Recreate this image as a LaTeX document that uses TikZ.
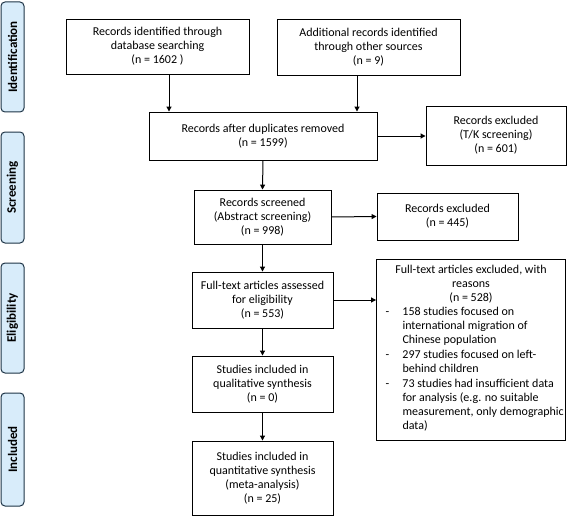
\documentclass[tikz,border=0pt]{standalone}
\usepackage{fontspec}
\setmainfont{Carlito}
\usetikzlibrary{arrows.meta, calc}
\definecolor{stageblue}{HTML}{D8ECFA}
\definecolor{stageedge}{HTML}{1E3446}
% one excluded reason: dash, then its lines
\newcommand{\reason}[1]{\makebox[21pt][l]{\hspace*{4pt}-}\begin{tabular}[t]{@{}l@{}}#1\end{tabular}\par}

\begin{document}
\begin{tikzpicture}[x=1pt, y=-1pt,
  box/.style={draw, line width=0.9pt, align=center, inner sep=0pt,
    font=\fontsize{12}{14}\selectfont},
  stage/.style={draw=stageedge, fill=stageblue, rounded corners=4pt, line width=1pt,
    rotate=90, minimum height=23pt, inner sep=0pt, font=\fontsize{13}{14}\selectfont\bfseries},
  arr/.style={-{Triangle[length=5pt,width=5pt]}, line width=1pt}]
\useasboundingbox (0,0) rectangle (567,516);
% Stages down the left side
\node[stage, minimum width=110pt] (ident) at (12.5,57) {Identification};
\node[stage, minimum width=111pt] (screen) at (12.5,187.5) {Screening};
\node[stage, minimum width=110pt] (elig) at (12.5,318) {Eligibility};
\node[stage, minimum width=113pt] (incl) at (12.5,449.5) {Included};
% Identification
\node[box, minimum width=183pt, minimum height=55pt] (db) at (157.5,46.5)
  {Records identified through\\database searching\\(n = 1602 )};
\node[box, minimum width=183pt, minimum height=56pt] (other) at (368.5,47)
  {Additional records identified\\through other sources\\(n = 9)};
% Screening
\node[box, minimum width=228pt, minimum height=48pt] (dup) at (263,136)
  {Records after duplicates removed\\(n = 1599)};
\node[box, minimum width=140pt, minimum height=59pt] (tk) at (496,135.5)
  {Records excluded\\(T/K screening)\\(n = 601)};
\node[box, minimum width=137pt, minimum height=54pt] (abs) at (262.5,217)
  {Records screened\\(Abstract screening)\\(n = 998)};
\node[box, minimum width=141pt, minimum height=47pt] (absex) at (447.5,216.5)
  {Records excluded\\(n = 445)};
% Eligibility
\node[box, minimum width=141pt, minimum height=56pt] (full) at (262.5,300)
  {Full-text articles assessed\\for eligibility\\(n = 553)};
\node[box, minimum width=189pt, minimum height=181pt, text width=179pt, align=none] (fullex) at (471,349.5)
  {\centering Full-text articles excluded, with\\reasons\\(n = 528)\par
   \raggedright
   \reason{158 studies focused on\\international migration of\\Chinese population}
   \reason{297 studies focused on left-\\behind children}
   \reason{73 studies had insufficient data\\for analysis (e.g. no suitable\\measurement, only demographic\\data)}};
% Included
\node[box, minimum width=141pt, minimum height=56pt] (qual) at (262.5,384)
  {Studies included in\\qualitative synthesis\\(n = 0)};
\node[box, minimum width=141pt, minimum height=74pt] (quant) at (262.5,478)
  {Studies included in\\quantitative synthesis\\(meta-analysis)\\(n = 25)};
% Arrows
\draw[arr] ([xshift=11.5pt]db.south) -- ([xshift=11.5pt]db.south |- dup.north);
\draw[arr] ([xshift=-11.5pt]other.south) -- ([xshift=-11.5pt]other.south |- dup.north);
\draw[arr] (dup.east) -- (dup.east -| tk.west);
\draw[arr] (dup.south) -- (abs.north);
\draw[arr] (abs.east) -- (absex.west);
\draw[arr] (abs.south) -- (full.north);
\draw[arr] (full.east) -- (full.east -| fullex.west);
\draw[arr] (full.south) -- (qual.north);
\draw[arr] (qual.south) -- (quant.north);
\end{tikzpicture}
\end{document}
